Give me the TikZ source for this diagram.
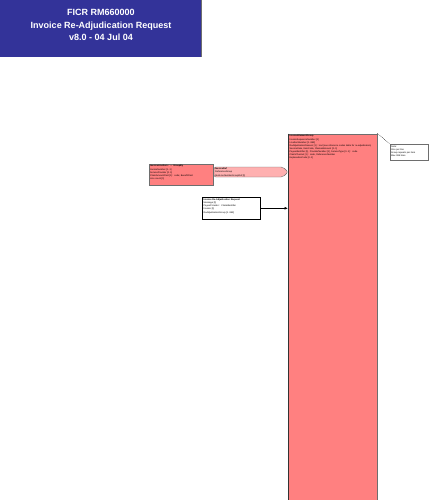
\documentclass[tikz,border=0pt]{standalone}
\usepackage{fontspec}
\setmainfont{Liberation Sans}
\usetikzlibrary{arrows.meta,positioning}

\definecolor{titleblue}{RGB}{51,51,153}
\definecolor{grppink}{RGB}{255,128,128}
\definecolor{refpink}{RGB}{255,176,176}
\definecolor{edgegray}{RGB}{110,110,110}

\tikzset{
  tinytext/.style={font=\fontsize{2.3}{3}\selectfont, inner sep=0pt, align=left},
  groupbox/.style={draw=edgegray, fill=grppink, line width=0.4pt, inner sep=0pt},
  plainbox/.style={draw=black, fill=white, line width=0.6pt, inner sep=0pt},
}

\begin{document}
\begin{tikzpicture}[x=1pt,y=-1pt]
  \useasboundingbox (0,0) rectangle (429,500);

  \fill[titleblue] (0,0) rectangle (201,57);
  \draw[edgegray,line width=0.8pt] (201,0) -- (201,57);
  \node[font=\fontsize{9}{12.5}\selectfont\bfseries, text=white, align=center] (title) at (101,25) {FICR RM660000\\Invoice Re-Adjudication Request\\v8.0 - 04 Jul 04};

  \node[groupbox, anchor=north west, minimum width=89pt, minimum height=366pt] (grp) at (288,133.5) {};
  \draw[black!80, line width=1pt] (grp.north west) -- (grp.south west);
  \node[tinytext, anchor=north west, text width=86pt] (grptext) at (289.5,135) {\textbf{InvoiceElementGroup}\\[0.6pt]
    InvoiceSequenceNumber [1]\\LineItemNumber [1..999]\\
    ReAdjudicationReason [1] : text (see reference codes table for re-adjudication)\\
    ServiceDate, ItemCode, ClaimedAmount [0..1]\\
    PayeeIdentifier [1], ProviderNumber [1], ServiceType [0..1] : code\\
    ClaimChannel [1] : code, ReferenceNumber\\
    ExplanationCode [0..1]};

  \node[draw=edgegray, fill=white, line width=0.4pt, minimum width=38pt, minimum height=16pt, inner sep=0pt, anchor=north west] (note) at (390,144) {};
  \node[tinytext, anchor=north west, text width=36pt] (notetext) at (391,145.5) {Note:\\One per line\\Group repeats per item\\Max 999 lines};
  \draw[densely dotted, line width=0.5pt] (grp.north east) -- (note.north west);

  \node[groupbox, anchor=north west, minimum width=64pt, minimum height=21pt] (line) at (149,164) {};
  \node[tinytext, anchor=north west, text width=62pt] (linetext) at (150,165) {\textbf{InvoiceLineItem : ... GroupBy}\\[0.6pt]
    InvoiceNumber [1..1]\\ServiceProvider [0..1]\\ClaimAmountPaid [1] : code; BenefitPaid\\Line count [1]};

  \draw[edgegray, fill=refpink, line width=0.4pt, rounded corners=2pt] (214,167) -- (283,167) -- (288,172) -- (283,177) -- (214,177) -- cycle;
  \node[tinytext, anchor=north west] (reftext) at (215,168) {\textbf{InvoiceRef}\\ReferenceGroup\\[1] ItemLineNumberGroupRef [1]};

  \node[plainbox, anchor=north west, minimum width=58pt, minimum height=22pt] (req) at (202,197) {};
  \node[tinytext, anchor=north west, text width=56pt] (reqtext) at (203.5,198.5) {\textbf{Invoice Re-Adjudication Request}\\
    Message [1]\\PayeeProvider : ClaimIdentifier\\Invoice [1]\\[1pt]ReAdjudicationGroup [1..999]};
  \draw[-{Latex[length=3.5pt,width=3pt]}, line width=0.8pt] (req.east) -- (req.east -| grp.west);

\end{tikzpicture}
\end{document}
